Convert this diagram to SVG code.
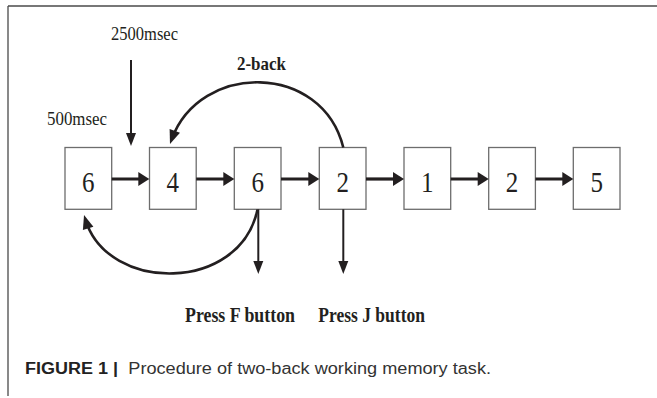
<svg xmlns="http://www.w3.org/2000/svg" width="657" height="398" viewBox="0 0 657 398">
<style>
.box{fill:#fff;stroke:#6d6d6d;stroke-width:1.3}
.num{font-family:"Liberation Serif",serif;font-size:30px;fill:#231f20}
.lbl{font-family:"Liberation Serif",serif;font-size:19px;fill:#231f20}
.bold{font-weight:bold}
.harrow{stroke:#231f20;stroke-width:3.2;fill:none}
.varrow{stroke:#231f20;stroke-width:2;fill:none}
.curve{stroke:#231f20;stroke-width:2.6;fill:none}
.cap{font-family:"Liberation Sans",Arial,sans-serif;font-size:16px;fill:#333}
</style>
<defs>
<marker id="mh" markerUnits="userSpaceOnUse" markerWidth="12" markerHeight="15" refX="5" refY="7" orient="auto" overflow="visible">
<path d="M0,0 L11,7 L0,14 z" fill="#231f20"/>
</marker>
<marker id="mv" markerUnits="userSpaceOnUse" markerWidth="14" markerHeight="11" refX="7" refY="5" orient="auto" overflow="visible">
<path d="M0,0 L13,5 L0,10 z" fill="#231f20"/>
</marker>
<marker id="mc" markerUnits="userSpaceOnUse" markerWidth="15" markerHeight="12" refX="9" refY="5.5" orient="auto" overflow="visible">
<path d="M0,0 L14,5.5 L0,11 z" fill="#231f20"/>
</marker>
</defs>
<g id="frame" stroke="#4a4a4a" stroke-width="1.3" fill="none">
<line x1="8" y1="6" x2="657" y2="6"/>
<line x1="8" y1="6" x2="8" y2="396"/>
</g>
<g id="n1"><rect class="box" x="65" y="147.5" width="46.7" height="61.8"/><text class="num" x="82.1" y="191.7" textLength="12.5" lengthAdjust="spacingAndGlyphs">6</text></g>
<g id="n2"><rect class="box" x="149.5" y="147.5" width="46.7" height="61.8"/><text class="num" x="166.6" y="191.7" textLength="12.5" lengthAdjust="spacingAndGlyphs">4</text></g>
<g id="n3"><rect class="box" x="234.3" y="147.5" width="46.7" height="61.8"/><text class="num" x="251.4" y="191.7" textLength="12.5" lengthAdjust="spacingAndGlyphs">6</text></g>
<g id="n4"><rect class="box" x="319.3" y="147.5" width="46.7" height="61.8"/><text class="num" x="336.4" y="191.7" textLength="12.5" lengthAdjust="spacingAndGlyphs">2</text></g>
<g id="n5"><rect class="box" x="404" y="147.5" width="46.7" height="61.8"/><text class="num" x="421.1" y="191.7" textLength="12.5" lengthAdjust="spacingAndGlyphs">1</text></g>
<g id="n6"><rect class="box" x="488.7" y="147.5" width="46.7" height="61.8"/><text class="num" x="505.8" y="191.7" textLength="12.5" lengthAdjust="spacingAndGlyphs">2</text></g>
<g id="n7"><rect class="box" x="573.3" y="147.5" width="46.7" height="61.8"/><text class="num" x="590.4" y="191.7" textLength="12.5" lengthAdjust="spacingAndGlyphs">5</text></g>
<g id="connectors">
<line class="harrow" x1="111.7" y1="179" x2="143.3" y2="179" marker-end="url(#mh)"/>
<line class="harrow" x1="196.2" y1="179" x2="228.3" y2="179" marker-end="url(#mh)"/>
<line class="harrow" x1="281" y1="179" x2="313.3" y2="179" marker-end="url(#mh)"/>
<line class="harrow" x1="366" y1="179" x2="398" y2="179" marker-end="url(#mh)"/>
<line class="harrow" x1="450.7" y1="179" x2="482.7" y2="179" marker-end="url(#mh)"/>
<line class="harrow" x1="535.4" y1="179" x2="567.3" y2="179" marker-end="url(#mh)"/>
<line class="varrow" x1="131" y1="60" x2="131" y2="140" marker-end="url(#mv)"/>
<line class="varrow" x1="258.3" y1="209.3" x2="258.3" y2="268" marker-end="url(#mv)"/>
<line class="varrow" x1="343.3" y1="209.3" x2="343.3" y2="268" marker-end="url(#mv)"/>
<path class="curve" d="M343.3,147.5 C322,62 200,62 171.7,139.3" marker-end="url(#mc)"/>
<path class="curve" d="M257.5,209.5 C240,293 108,293 85.5,219.8" marker-end="url(#mc)"/>
</g>
<g id="labels">
<text class="lbl" x="111" y="40" textLength="67" lengthAdjust="spacingAndGlyphs">2500msec</text>
<text class="lbl" x="47" y="125" textLength="60" lengthAdjust="spacingAndGlyphs">500msec</text>
<text class="lbl bold" x="237" y="70" textLength="49" lengthAdjust="spacingAndGlyphs">2-back</text>
<text class="lbl bold" x="185" y="321.5" font-size="20" style="font-size:20px" textLength="110" lengthAdjust="spacingAndGlyphs">Press F button</text>
<text class="lbl bold" x="318.3" y="321.5" style="font-size:20px" textLength="106.7" lengthAdjust="spacingAndGlyphs">Press J button</text>
</g>
<g id="caption">
<text class="cap bold" x="25" y="374" fill="#222" style="fill:#222" textLength="93" lengthAdjust="spacingAndGlyphs">FIGURE 1 |</text>
<text class="cap" x="128.3" y="374" textLength="362.7" lengthAdjust="spacingAndGlyphs">Procedure of two-back working memory task.</text>
</g>
</svg>
